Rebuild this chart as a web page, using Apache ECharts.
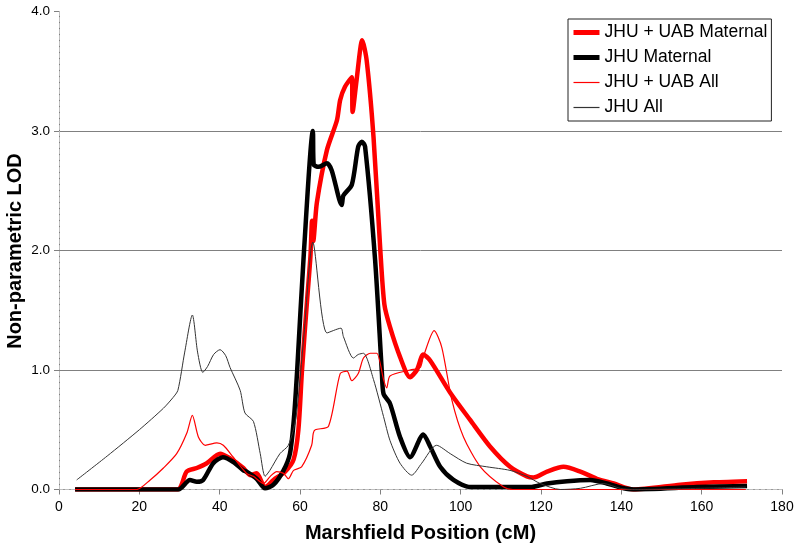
<!DOCTYPE html>
<html>
<head>
<meta charset="utf-8">
<script src="https://cdn.jsdelivr.net/npm/echarts@6/dist/echarts.min.js"></script>
<style>html,body{margin:0;padding:0;background:#fff}#c{width:800px;height:553px}</style>
</head>
<body>
<div id="c"></div>
<script>
const seriesNames = ['JHU + UAB Maternal', 'JHU Maternal', 'JHU + UAB All', 'JHU All'];
const xTicks = [0, 20, 40, 60, 80, 100, 120, 140, 160, 180];
const yTicks = [0, 1, 2, 3, 4];
const xTitle = 'Marshfield Position (cM)';
const yTitle = 'Non-parametric LOD';

const jhuUabMaternal = [[4,0],[29.5,0],[31.8,0.15],[34.3,0.18],[36.8,0.22],[40.1,0.30],[42.6,0.26],[45.9,0.18],[47.6,0.12],[49.2,0.135],[51.3,0.02],[53.4,0.08],[56.3,0.15],[58.4,0.25],[59.6,0.5],[60.5,1.0],[61.8,1.6],[62.6,1.95],[63.0,2.25],[63.3,2.08],[64.2,2.4],[66.7,2.84],[69.2,3.09],[70.0,3.26],[71.2,3.37],[72.9,3.45],[73.1,3.16],[74.1,3.43],[75.5,3.76],[76.6,3.59],[78.3,2.95],[80.0,2.0],[81.0,1.55],[82.4,1.36],[84.9,1.11],[87.4,0.94],[89.1,1.0],[90.7,1.13],[92.4,1.08],[97.4,0.81],[102.4,0.58],[107.3,0.36],[112.3,0.19],[116.5,0.11],[118.1,0.10],[121.5,0.15],[125.6,0.19],[129.8,0.15],[133.9,0.09],[138.1,0.05],[143,0],[154.7,0.04],[163,0.06],[171.3,0.07]];

const jhuMaternal = [[4,0],[29.7,0],[32.6,0.08],[34.3,0.065],[35.9,0.08],[38.4,0.22],[40.8,0.27],[43.4,0.23],[45.9,0.16],[46.7,0.15],[49.2,0.09],[51.3,0.01],[53.4,0.04],[55.9,0.16],[57.5,0.30],[58.5,0.6],[59.3,1.0],[61.0,2.0],[63.2,3.0],[63.4,2.72],[64.6,2.70],[66.7,2.73],[67.9,2.67],[70.4,2.38],[70.8,2.46],[72.9,2.55],[74.5,2.87],[75.4,2.91],[76.2,2.87],[78.7,1.92],[80.4,0.97],[80.8,0.80],[82.4,0.72],[84.9,0.44],[87.4,0.27],[90.7,0.46],[92.4,0.36],[94.9,0.19],[98.2,0.08],[102.4,0.02],[117.3,0.02],[121.5,0.05],[126.5,0.07],[132.3,0.08],[136.4,0.05],[140.6,0.01],[143,0],[158.8,0.02],[171.3,0.03]];

const jhuUabAll = [[4,0],[19.3,0],[22.7,0.08],[26,0.18],[29.3,0.30],[31.8,0.47],[33.2,0.62],[34.7,0.44],[36.4,0.37],[39.3,0.39],[40.9,0.37],[43.4,0.27],[46.7,0.135],[48.4,0.11],[50.9,0.05],[52.6,0.11],[54.2,0.15],[55.9,0.135],[57.1,0.09],[58.4,0.16],[60.4,0.19],[62.9,0.37],[63.3,0.47],[63.8,0.5],[67.1,0.53],[70.0,0.97],[71.7,0.99],[72.9,0.91],[74.5,0.97],[75.8,1.1],[77.5,1.14],[79.1,1.14],[80.8,0.92],[81.6,0.85],[82.4,0.95],[87.4,1.0],[89.9,1.02],[90.7,1.11],[93.4,1.33],[95.3,1.19],[97.8,0.75],[100.7,0.44],[104.9,0.19],[110.7,0.02],[113,0],[171,0]];

const jhuAll = [[4.4,0.08],[12,0.28],[20,0.5],[26,0.68],[28.4,0.77],[29.6,0.83],[31.3,1.15],[33.2,1.46],[34.5,1.15],[35.8,0.98],[37,1.03],[38.5,1.13],[40.1,1.17],[41.5,1.12],[42.6,1.02],[45.1,0.83],[46.3,0.64],[48.4,0.57],[50.1,0.30],[51.3,0.11],[52.5,0.16],[55,0.3],[57.1,0.37],[59,0.6],[61,1.3],[63.2,2.07],[66.7,1.31],[70.2,1.35],[70.8,1.28],[73.3,1.1],[74.5,1.13],[75.8,1.14],[78.3,0.92],[80.8,0.61],[82.4,0.41],[84.9,0.22],[87.8,0.12],[90.3,0.22],[94,0.37],[97.4,0.30],[101.5,0.22],[106.5,0.19],[112.3,0.16],[116.5,0.11],[119.8,0.05],[124.8,0],[129.8,0.01],[135.5,0.05],[139.7,0.01],[143,0],[171,0.02]];

const FONT = 'Arial, "Liberation Sans", sans-serif';
const chart = echarts.init(document.getElementById('c'), null, {renderer: 'canvas'});

const lineColors = ['#ff0000', '#000000', '#ff0000', '#333333'];
const lineWidths = [4.5, 4.5, 1.2, 1];

function mk(i, data) {
  return {
    name: seriesNames[i], type: 'line', data: data, xAxisIndex: 0, yAxisIndex: 0,
    showSymbol: false, symbol: 'none', smooth: 0.25, z: 2 + i,
    lineStyle: {color: lineColors[i], width: lineWidths[i]}, itemStyle: {color: lineColors[i]},
    emphasis: {disabled: true}, animation: false
  };
}

chart.setOption({
  animation: false,
  grid: {left: 59, right: 18, top: 11.5, bottom: 63.5, containLabel: false},
  legend: {
    orient: 'vertical', left: 568, top: 19,
    backgroundColor: '#fff', borderColor: '#222', borderWidth: 1,
    padding: [4, 4, 4, 3], itemGap: 6, itemWidth: 26, itemHeight: 14,
    itemTextGap: 1,
    itemStyle: {opacity: 0},
    textStyle: {fontFamily: FONT, fontSize: 17.5, color: '#000', lineHeight: 19},
    data: seriesNames.map((n, i) => ({name: n, lineStyle: {width: i < 2 ? 5 : 1.2, color: lineColors[i]}, itemStyle: {opacity: 0}}))
  },
  graphic: [{
    type: 'text', rotation: Math.PI / 2,
    x: 15, y: 251,
    style: {text: yTitle, font: 'bold 20px ' + FONT, fill: '#000', textAlign: 'center', textVerticalAlign: 'middle'}
  }],
  xAxis: [{
    type: 'value', min: xTicks[0], max: xTicks[xTicks.length - 1], interval: 20,
    name: xTitle, nameLocation: 'middle', nameGap: 34,
    nameTextStyle: {fontFamily: FONT, fontSize: 20, fontWeight: 'bold', color: '#000'},
    axisLine: {show: true, lineStyle: {color: '#808080', width: 1}},
    axisTick: {show: true, length: 5, inside: false, lineStyle: {color: '#808080'}},
    axisLabel: {fontFamily: FONT, fontSize: 14, color: '#000', margin: 11},
    splitLine: {show: false}
  }, {
    type: 'value', position: 'top', min: 0, max: 180,
    axisLine: {show: true, lineStyle: {color: '#c0c0c0', type: 'dashed', width: 1}},
    axisTick: {show: false}, axisLabel: {show: false}, splitLine: {show: false}
  }],
  yAxis: [{
    type: 'value', min: yTicks[0], max: yTicks[yTicks.length - 1], interval: 1,
    axisLine: {show: true, lineStyle: {color: '#808080', width: 1}},
    axisTick: {show: true, length: 5, lineStyle: {color: '#808080'}},
    axisLabel: {fontFamily: FONT, fontSize: 13.5, color: '#000', margin: 9,
      formatter: v => v.toFixed(1)},
    splitLine: {show: true, showMinLine: false, showMaxLine: false, lineStyle: {color: '#808080', width: 1}}
  }, {
    type: 'value', position: 'right', min: 0, max: 4,
    axisLine: {show: true, lineStyle: {color: '#c0c0c0', type: 'dashed', width: 1}},
    axisTick: {show: false}, axisLabel: {show: false}, splitLine: {show: false}
  }],
  series: [
    mk(0, jhuUabMaternal),
    mk(1, jhuMaternal),
    mk(2, jhuUabAll),
    mk(3, jhuAll)
  ]
});
</script>
</body>
</html>
